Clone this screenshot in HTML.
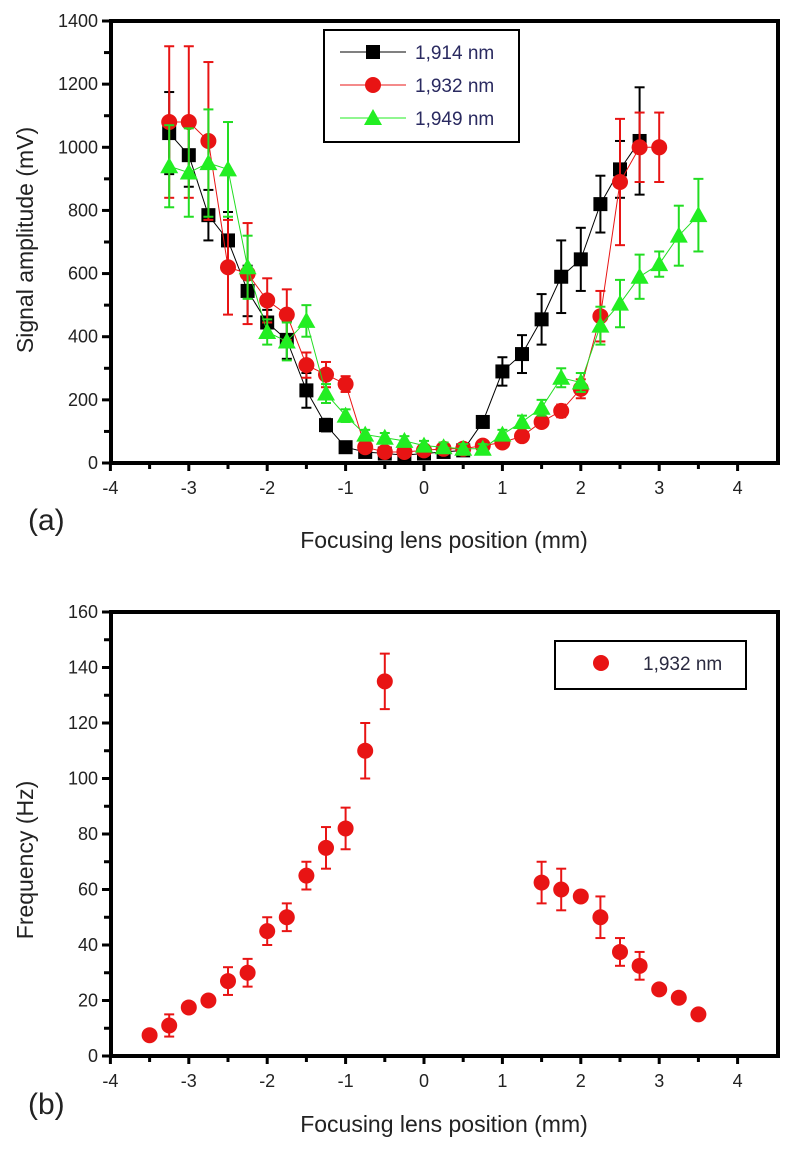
<!DOCTYPE html>
<html><head><meta charset="utf-8"><style>
body{margin:0;background:#fff;width:799px;height:1151px;overflow:hidden}
svg text{font-family:"Liberation Sans",sans-serif}
</style></head><body>
<svg id="svg" width="799" height="1151" xmlns="http://www.w3.org/2000/svg"></svg>
<script>
const xsA=[-3.25,-3,-2.75,-2.5,-2.25,-2,-1.75,-1.5,-1.25,-1,-0.75,-0.5,-0.25,0,0.25,0.5,0.75,1,1.25,1.5,1.75,2,2.25,2.5,2.75,3,3.25,3.5];
const blackVals=[1045,975,785,705,545,445,390,230,120,50,35,30,25,30,35,40,130,290,345,455,590,645,820,930,1020];
const blackErr=[130,100,80,90,80,40,60,55,20,15,10,10,10,10,10,10,15,45,60,80,115,100,90,90,170];
const redVals=[1080,1080,1020,620,600,515,470,310,280,250,50,35,35,40,45,45,55,65,85,130,165,235,465,890,1000,1000];
const redErr=[240,240,250,150,160,70,80,40,40,25,15,10,10,10,10,10,10,10,10,10,20,30,80,200,110,110];
const greenVals=[940,920,950,930,620,415,385,450,220,150,90,80,70,55,50,45,45,90,130,175,270,255,435,505,590,630,720,785];
const greenErr=[130,140,170,150,100,40,60,50,30,20,15,15,15,15,15,15,15,15,20,25,30,30,60,75,70,40,95,115];
const xTicks=[-4,-3,-2,-1,0,1,2,3,4];
const yTicksA=[0,200,400,600,800,1000,1200,1400];
const yTicksB=[0,20,40,60,80,100,120,140,160];
const xsB=[-3.5,-3.25,-3,-2.75,-2.5,-2.25,-2,-1.75,-1.5,-1.25,-1,-0.75,-0.5,1.5,1.75,2,2.25,2.5,2.75,3,3.25,3.5];
const freqVals=[7.5,11,17.5,20,27,30,45,50,65,75,82,110,135,62.5,60,57.5,50,37.5,32.5,24,21,15];
const freqErr=[0,4,0,0,5,5,5,5,5,7.5,7.5,10,10,7.5,7.5,0,7.5,5,5,0,0,0];

const svg=document.getElementById('svg');
const NS='http://www.w3.org/2000/svg';
function mk(tag,attrs,parent){const e=document.createElementNS(NS,tag);for(const k in attrs)e.setAttribute(k,attrs[k]);(parent||svg).appendChild(e);return e;}
const L=111,R=778;
const xS=v=>424+v*78.4;
function axes(top,bot,ymax,yTicks,minorStep,grp){
  const yS=v=>bot-(v/ymax)*(bot-top);
  mk('rect',{x:L,y:top,width:R-L,height:bot-top,fill:'none',stroke:'#000','stroke-width':4},grp);
  for(let v=-4;v<=4.01;v+=0.5){const x=xS(v);const t=mk('line',{x1:x,x2:x,y1:bot,y2:bot+(Number.isInteger(v)?8:6),stroke:'#000','stroke-width':3},grp);
    }
  xTicks.forEach(v=>{const t=mk('text',{x:xS(v),y:bot+31,'font-size':18,'text-anchor':'middle',fill:'#222'},grp);t.textContent=v;
    });
  for(let v=0;v<=ymax+0.01;v+=minorStep){const y=yS(v);const t=mk('line',{x1:L-(v%(minorStep*2)===0?9:7),x2:L,y1:y,y2:y,stroke:'#000','stroke-width':3},grp);
    }
  yTicks.forEach(v=>{const t=mk('text',{x:L-13,y:yS(v)+6,'font-size':18,'text-anchor':'end',fill:'#222'},grp);t.textContent=v;
    });
  return yS;
}
function errBar(x,y1,y2,color,g){mk('line',{x1:x,x2:x,y1:y1,y2:y2,stroke:color,'stroke-width':2},g);
  mk('line',{x1:x-5,x2:x+5,y1:y1,y2:y1,stroke:color,'stroke-width':2},g);mk('line',{x1:x-5,x2:x+5,y1:y2,y2:y2,stroke:color,'stroke-width':2},g);}
function marker(type,x,y,color,g){
  if(type==='sq')return mk('rect',{x:x-7,y:y-7,width:14,height:14,fill:color},g);
  if(type==='c')return mk('circle',{cx:x,cy:y,r:8,fill:color},g);
  return mk('polygon',{points:`${x},${y-9} ${x-9},${y+7} ${x+9},${y+7}`,fill:color},g);
}
// Chart A
const gA=mk('g',{});
const yA=axes(21,463,1400,yTicksA,100,gA);
function series(vals,errs,type,color,lineColor,name){
  const g=mk('g',{},gA);
  mk('polyline',{points:vals.map((v,i)=>xS(xsA[i])+','+yA(v)).join(' '),fill:'none',stroke:lineColor,'stroke-width':1},g);
  vals.forEach((v,i)=>errBar(xS(xsA[i]),yA(v+errs[i]),yA(v-errs[i]),lineColor,g));
  vals.forEach((v,i)=>{const m=marker(type,xS(xsA[i]),yA(v),color,g);});
}
series(blackVals,blackErr,'sq','#000','#000','series-1914nm');
series(redVals,redErr,'c','#e81414','#e81414','series-1932nm');
series(greenVals,greenErr,'t','#22ee22','#22dd22','series-1949nm');
// legend A
const lg=mk('g',{},gA);
mk('rect',{x:324,y:30,width:195,height:112,fill:'#fff',stroke:'#000','stroke-width':2},lg);
[['sq','#000','1,914 nm',52],['c','#e81414','1,932 nm',85],['t','#22ee22','1,949 nm',118]].forEach(e=>{
  mk('line',{x1:340,x2:406,y1:e[3],y2:e[3],stroke:e[1],'stroke-width':1},lg);marker(e[0],373,e[3],e[1],lg);
  const t=mk('text',{x:415,y:e[3]+7,'font-size':19,fill:'#2a2a60'},lg);t.textContent=e[2];
  });
let t;
t=mk('text',{x:444,y:548,'font-size':23,'text-anchor':'middle',fill:'#222'});t.textContent='Focusing lens position  (mm)';
t=mk('text',{x:0,y:0,'font-size':23,'text-anchor':'middle',fill:'#222',transform:'translate(33,240) rotate(-90)'});t.textContent='Signal amplitude  (mV)';
t=mk('text',{x:28,y:530,'font-size':30,fill:'#222'});t.textContent='(a)';
// Chart B
const gB=mk('g',{});
const yB=axes(612,1056,160,yTicksB,10,gB);
freqVals.forEach((v,i)=>{if(freqErr[i]>0)errBar(xS(xsB[i]),yB(v+freqErr[i]),yB(v-freqErr[i]),'#e81414',gB);});
freqVals.forEach((v,i)=>{const m=marker('c',xS(xsB[i]),yB(v),'#e81414',gB);});
const lb=mk('g',{},gB);
mk('rect',{x:555,y:641,width:191,height:48,fill:'#fff',stroke:'#000','stroke-width':2},lb);
marker('c',601,663,'#e81414',lb);
t=mk('text',{x:643,y:670,'font-size':19,fill:'#2a2a40'},lb);t.textContent='1,932 nm';
t=mk('text',{x:444,y:1132,'font-size':23,'text-anchor':'middle',fill:'#222'});t.textContent='Focusing lens position  (mm)';
t=mk('text',{x:0,y:0,'font-size':23,'text-anchor':'middle',fill:'#222',transform:'translate(33,860) rotate(-90)'});t.textContent='Frequency  (Hz)';
t=mk('text',{x:28,y:1114,'font-size':30,fill:'#222'});t.textContent='(b)';
</script>
</body></html>
